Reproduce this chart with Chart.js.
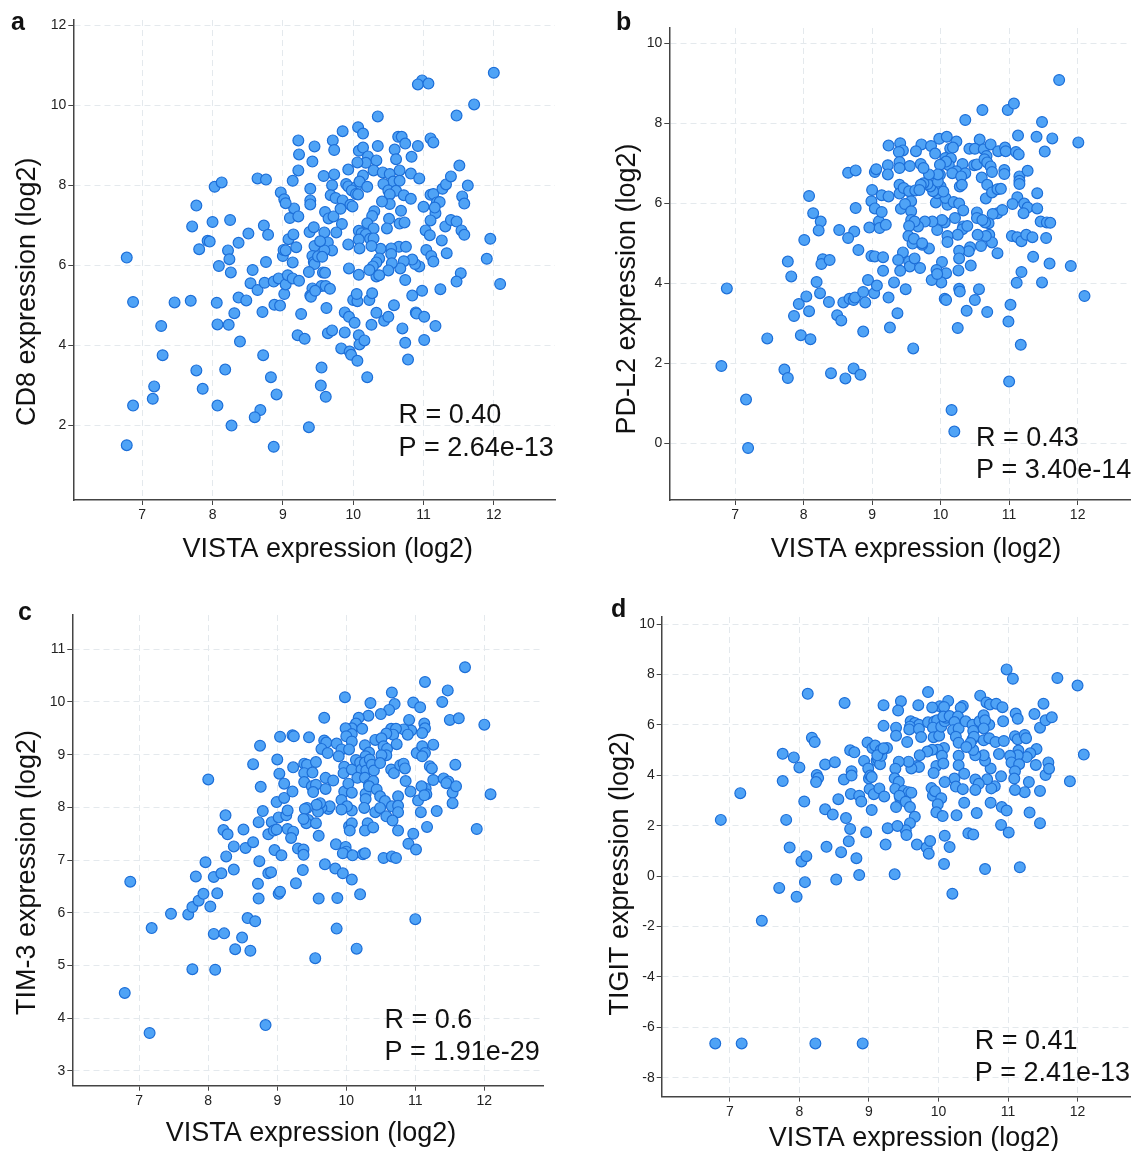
<!DOCTYPE html>
<html><head><meta charset="utf-8">
<script src="https://cdn.jsdelivr.net/npm/chart.js@4.4.1/dist/chart.umd.min.js"></script>
<style>
html,body{margin:0;padding:0;background:#fff;}
#wrap{position:relative;width:1137px;height:1151px;overflow:hidden;background:#fff;}
canvas{position:absolute;}
</style></head><body>
<div id="wrap">
<canvas id="cA" width="568" height="575" style="left:0px;top:0px"></canvas>
<canvas id="cB" width="569" height="575" style="left:568px;top:0px"></canvas>
<canvas id="cC" width="568" height="576" style="left:0px;top:575px"></canvas>
<canvas id="cD" width="569" height="576" style="left:568px;top:575px"></canvas>
</div>
<script>
// ---------- tick labels ----------
const xTicks = [7, 8, 9, 10, 11, 12];
const yTicksA = [2, 4, 6, 8, 10, 12];
const yTicksB = [0, 2, 4, 6, 8, 10];
const yTicksC = [3, 4, 5, 6, 7, 8, 9, 10, 11];
const yTicksD = [-8, -6, -4, -2, 0, 2, 4, 6, 8, 10];

// ---------- texts ----------
const xTitle = 'VISTA expression (log2)';
const yTitleA = 'CD8 expression (log2)';
const yTitleB = 'PD-L2 expression (log2)';
const yTitleC = 'TIM-3 expression (log2)';
const yTitleD = 'TIGIT expression (log2)';
const statsA = ['R = 0.40', 'P = 2.64e-13'];
const statsB = ['R = 0.43', 'P = 3.40e-14'];
const statsC = ['R = 0.6', 'P = 1.91e-29'];
const statsD = ['R = 0.41', 'P = 2.41e-13'];

// ---------- data: [VISTA, gene] ----------
const pointsA = [
[6.78,6.2],[6.87,5.09],[7.27,4.49],[7.29,3.76],[7.17,2.98],[7.15,2.67],[6.87,2.5],[6.78,1.51],[7.46,5.08],[7.69,5.12],
[7.77,7.5],[7.71,6.98],[7.81,6.41],[7.93,6.62],[7.96,6.6],[8.0,7.09],[8.03,7.97],[8.13,8.08],[8.09,5.99],[8.06,5.07],
[8.07,4.53],[7.77,3.38],[7.86,2.92],[8.07,2.5],[8.18,3.4],[8.27,2.0],[8.23,4.52],[8.31,4.81],[8.37,5.2],[8.39,4.1],
[8.25,7.14],[8.22,6.38],[8.24,6.16],[8.26,5.83],[8.37,6.57],[8.51,6.8],[8.48,5.13],[8.57,5.89],[8.54,5.56],[8.64,5.39],
[8.64,8.18],[8.76,8.15],[8.73,7.0],[8.79,6.77],[8.76,6.09],[8.74,5.57],[8.71,4.84],[8.72,3.76],[8.83,3.21],[8.68,2.39],
[8.6,2.21],[8.91,2.78],[8.87,1.47],[8.87,5.6],[8.94,5.68],[8.88,5.02],[8.96,5.0],[9.02,5.29],[9.04,5.53],[9.07,5.76],
[9.14,5.68],[9.23,5.62],[9.0,6.24],[9.01,6.39],[9.04,6.38],[9.14,6.08],[9.19,6.46],[9.08,6.66],[9.15,6.78],[9.1,7.19],
[9.16,7.43],[9.22,7.23],[8.97,7.83],[9.02,7.66],[9.04,7.56],[9.14,8.12],[9.22,8.38],[9.23,8.78],[9.22,9.13],[9.45,8.98],
[9.42,8.6],[9.39,7.92],[9.39,7.63],[9.39,7.53],[9.38,6.84],[9.44,6.96],[9.45,6.49],[9.42,6.24],[9.44,6.09],[9.45,6.04],
[9.37,5.84],[9.42,5.43],[9.39,5.25],[9.4,5.22],[9.26,4.79],[9.21,4.26],[9.31,4.17],[9.37,1.96],
[10.98,10.63],[10.92,10.53],[11.07,10.55],[12.0,10.82],[11.72,10.03],[11.47,9.75],[10.35,9.73],[9.85,9.36],[10.07,9.46],[10.14,9.3],
[10.64,9.22],[10.69,9.22],[10.74,9.05],[11.1,9.18],[11.14,9.08],[10.92,8.99],[10.35,8.99],[9.71,9.13],[9.73,8.89],[10.08,8.87],
[10.14,8.95],[10.21,8.73],[10.33,8.63],[10.18,8.57],[10.06,8.58],[10.59,8.9],[10.61,8.66],[10.83,8.72],[9.58,8.24],[9.73,8.28],
[9.93,8.4],[10.14,8.25],[10.29,8.38],[10.42,8.33],[10.52,8.29],[10.66,8.38],[10.82,8.3],[10.94,8.18],[10.57,8.1],[10.66,8.12],
[10.43,8.04],[10.5,7.88],[10.61,7.87],[10.72,7.76],[10.82,7.67],[10.52,7.78],[10.52,7.54],[10.41,7.6],[9.9,8.04],[9.93,7.98],
[10.04,7.96],[9.98,7.88],[10.09,8.1],[10.2,7.97],[9.7,8.01],[9.68,7.76],[9.75,7.69],[9.85,7.63],[9.96,7.52],[9.99,7.48],
[10.04,7.79],[10.07,7.78],[9.6,7.34],[9.65,7.18],[9.72,7.23],[9.82,7.42],[11.0,7.47],[11.1,7.77],[11.14,7.79],[11.19,7.58],
[11.23,7.59],[11.17,7.31],[11.16,7.45],[11.27,7.92],[11.32,8.03],[11.39,8.23],[11.51,8.5],[11.63,8.0],[11.55,7.73],[11.58,7.55],
[10.3,7.36],[10.27,7.24],[10.2,7.06],[10.29,6.93],[10.51,7.17],[10.48,6.93],[10.66,7.05],[10.73,7.08],[10.68,7.37],[11.1,7.13],
[11.03,6.88],[11.09,6.76],[11.31,6.98],[11.39,7.14],[11.47,7.1],[11.54,6.88],[11.58,6.77],[11.26,6.63],[11.33,6.31],[11.95,6.67],
[11.9,6.17],[12.09,5.54],[11.53,5.81],[11.47,5.6],[11.24,5.41],[10.98,5.37],[10.84,5.25],[10.74,5.64],[11.04,6.39],[11.11,6.24],
[11.14,6.1],[10.94,5.98],[10.88,6.04],[10.84,6.15],[10.65,6.47],[10.75,6.47],[10.72,6.11],[10.67,5.93],[10.54,6.43],[10.54,6.29],
[10.55,6.06],[10.5,5.88],[10.39,6.42],[10.37,6.18],[10.33,6.08],[10.28,5.98],[10.33,5.73],[10.23,5.89],[10.37,5.76],[10.08,6.87],
[10.12,6.81],[10.18,6.78],[10.08,6.65],[10.09,6.43],[10.24,6.67],[10.29,6.68],[10.26,6.49],[9.93,6.53],[9.94,5.93],[10.08,5.77],
[9.84,7.04],[9.76,6.83],[9.59,6.83],[9.64,6.58],[9.7,6.38],[9.59,6.38],[9.53,6.61],[9.5,6.23],[9.56,6.22],[9.57,5.83],
[9.6,5.82],[9.55,5.49],[9.61,5.49],[9.67,5.42],[9.46,5.37],[9.62,4.94],[9.64,4.31],[9.7,4.38],[9.88,4.33],[9.88,4.83],
[9.94,4.72],[10.02,4.57],[10.0,5.14],[10.06,5.11],[10.05,5.29],[10.23,5.14],[10.27,5.31],[10.33,4.82],[10.26,4.52],[10.44,4.62],
[10.5,4.72],[10.58,5.01],[10.7,4.43],[10.74,4.07],[10.78,3.65],[10.89,4.83],[10.9,4.8],[11.01,4.72],[11.17,4.49],[11.01,4.14],
[9.83,3.93],[9.95,3.85],[9.97,3.77],[10.08,4.26],[10.09,4.03],[10.16,4.13],[10.06,3.62],[10.2,3.21],[9.55,3.45],[9.54,3.0],
[9.61,2.72]
];

const pointsB = [
[6.8,1.93],[6.88,3.87],[7.16,1.09],[7.19,-0.12],[7.47,2.62],[7.77,4.54],[7.82,4.17],[7.72,1.84],[7.77,1.63],[7.86,3.18],
[7.93,3.48],[7.96,2.7],[8.01,5.08],[8.04,3.67],[8.08,3.3],[8.1,2.6],[8.08,6.18],[8.14,5.75],[8.25,5.54],[8.22,5.32],
[8.28,4.6],[8.26,4.48],[8.38,4.58],[8.19,4.03],[8.24,3.75],[8.37,3.53],[8.4,1.75],[8.49,3.2],[8.55,3.07],[8.58,3.52],
[8.52,5.33],[8.65,6.76],[8.76,6.82],[8.76,5.88],[8.74,5.29],[8.65,5.13],[8.8,4.83],[8.67,3.61],[8.73,3.58],[8.75,3.64],
[8.61,1.62],[8.73,1.87],[8.83,1.71],[8.87,2.79],[8.87,3.78],[8.9,3.52],[8.94,4.08],[9.03,3.75],[9.07,3.94],[8.99,4.68],
[9.04,4.67],[9.16,4.65],[9.16,4.31],[8.96,5.39],[8.99,6.05],[9.0,6.33],[9.04,5.87],[9.14,6.2],[9.1,5.55],[9.11,5.38],
[9.04,6.78],[9.06,6.85],[9.14,5.78],
[11.73,9.08],[10.61,8.33],[10.98,8.33],[11.07,8.49],[10.36,8.08],[11.48,8.03],[11.13,7.69],[11.4,7.66],[11.63,7.62],[12.01,7.52],
[11.52,7.29],[9.98,7.61],[10.09,7.66],[10.57,7.59],[10.23,7.54],[10.14,7.37],[10.18,7.39],[9.24,7.44],[9.41,7.5],[9.45,7.32],
[9.39,7.28],[9.72,7.47],[9.64,7.3],[9.86,7.43],[9.92,7.24],[10.42,7.36],[10.5,7.36],[10.63,7.35],[10.73,7.47],[10.67,7.18],
[10.84,7.3],[10.94,7.39],[10.95,7.3],[11.1,7.28],[11.14,7.22],[10.07,7.13],[10.04,6.99],[10.15,7.12],[10.12,6.95],[10.08,7.04],
[9.99,6.96],[9.99,6.71],[10.32,6.98],[10.23,6.8],[10.17,6.75],[10.36,6.75],[10.3,6.67],[10.28,6.42],[10.31,6.46],[10.49,6.95],
[10.53,6.97],[10.6,6.64],[10.68,6.46],[10.66,6.12],[10.75,6.27],[10.64,7.1],[10.68,7.02],[10.73,6.92],[10.75,6.78],[10.93,6.83],
[10.93,6.73],[11.15,6.67],[11.15,6.56],[11.15,6.48],[11.27,6.81],[10.83,6.35],[10.88,6.36],[11.41,6.25],[11.12,6.15],[11.05,5.98],
[11.22,5.99],[11.27,5.89],[11.21,5.75],[11.41,5.87],[11.46,5.54],[11.55,5.52],[11.6,5.51],[11.04,5.18],[11.12,5.15],[11.18,5.05],
[11.25,5.21],[11.34,5.15],[11.54,5.13],[11.35,4.66],[11.59,4.49],[11.9,4.43],[11.48,4.02],[11.11,4.01],[11.18,4.28],[12.1,3.68],
[11.02,3.46],[10.99,3.04],[11.17,2.46],[11.0,1.54],[10.16,0.83],[10.2,0.29],[10.83,5.75],[10.9,5.83],[10.76,5.73],[10.7,5.5],
[10.65,5.52],[10.71,5.21],[10.75,5.02],[10.83,4.75],[10.66,5.18],[10.59,4.93],[10.53,5.77],[10.53,5.63],[10.61,5.58],[10.54,5.21],
[10.43,4.9],[10.41,4.8],[10.44,4.44],[10.27,4.81],[10.27,4.62],[10.26,4.32],[10.27,3.86],[10.28,3.79],[10.56,3.85],[10.5,3.58],
[10.38,3.31],[10.68,3.28],[10.25,2.88],[10.06,3.61],[10.08,3.58],[10.08,4.25],[10.02,4.53],[10.01,4.02],[9.94,4.33],[9.87,4.08],
[9.95,4.23],[10.33,5.42],[10.32,5.35],[10.39,5.43],[10.25,5.21],[10.21,5.63],[10.1,5.18],[10.1,5.03],[10.06,5.52],[10.02,5.58],
[9.95,5.33],[9.88,5.54],[9.77,5.54],[9.83,4.87],[9.67,5.42],[9.73,4.96],[10.1,5.96],[10.07,6.13],[10.19,6.03],[10.27,5.99],
[10.33,5.82],[9.93,6.02],[9.95,6.25],[10.0,6.42],[10.04,6.29],[9.89,6.3],[9.85,6.42],[9.81,6.48],[9.75,6.5],[9.71,6.46],
[9.96,6.54],[9.96,6.72],[9.83,6.72],[9.71,6.98],[9.75,6.88],[9.55,6.93],[9.4,7.03],[9.4,6.88],[9.23,6.95],[9.23,6.72],
[9.4,6.46],[9.4,6.24],[9.46,6.38],[9.54,6.3],[9.63,6.32],[9.69,6.33],[9.57,6.05],[9.24,6.17],[9.42,5.86],[9.48,5.98],
[9.57,5.8],[9.57,5.58],[9.62,5.54],[9.54,5.43],[9.2,5.46],[9.53,5.18],[9.59,4.99],[9.61,5.11],[9.73,5.0],[9.45,4.77],
[9.38,4.58],[9.54,4.54],[9.55,4.42],[9.62,4.62],[9.7,4.38],[9.41,4.31],[9.32,4.02],[9.49,3.85],[9.24,3.64],[9.37,3.25],
[9.26,2.89],[9.6,2.37]
];

const pointsC = [
[6.87,6.59],[6.79,4.48],[7.18,5.71],[7.15,3.72],[7.46,5.98],[7.71,5.97],[7.77,6.11],[7.77,4.93],[7.82,6.69],[7.86,6.23],
[7.93,6.36],[7.96,6.96],[8.0,8.53],[8.03,6.12],[8.08,6.68],[8.08,5.6],[8.1,4.92],[8.13,6.37],[8.19,6.75],[8.23,5.61],
[8.22,7.57],[8.25,7.85],[8.28,7.49],[8.26,7.07],[8.37,7.26],[8.37,6.82],[8.39,5.31],[8.49,5.53],[8.51,7.58],[8.54,7.23],
[8.57,5.9],[8.61,5.28],[8.65,7.34],[8.65,8.82],[8.68,5.84],[8.72,6.55],[8.73,6.27],[8.74,6.98],[8.73,7.72],[8.75,9.17],
[8.76,8.39],[8.79,7.93],[8.83,3.87],[8.87,7.49],[8.87,6.75],[8.91,6.77],[8.92,7.72],[8.95,7.56],[8.99,7.58],[8.96,7.19],
[8.99,8.1],[9.0,8.91],[9.02,7.81],[9.03,8.64],[9.02,6.36],[9.04,6.4],[9.04,9.34],[9.06,7.09],[9.1,8.45],[9.1,8.18],
[9.13,7.85],[9.15,7.94],[9.15,7.59],[9.23,7.54],[9.2,7.42],[9.22,9.37],[9.24,9.35],[9.23,8.76],[9.22,8.3],[9.27,6.56],
[9.3,7.22],
[11.72,10.66],[11.14,10.38],[11.47,10.22],[11.39,10.0],[12.0,9.57],[11.5,9.66],[11.63,9.69],[9.98,10.09],[10.66,10.18],[10.35,9.98],
[10.7,9.96],[10.62,9.85],[10.5,9.77],[10.97,9.99],[11.07,9.9],[10.91,9.66],[11.13,9.59],[11.14,9.5],[11.1,9.41],[10.88,9.43],
[10.94,9.46],[10.83,9.48],[10.65,9.49],[10.72,9.49],[10.68,9.38],[10.58,9.4],[10.89,9.38],[10.32,9.74],[10.18,9.7],[10.14,9.59],
[10.08,9.5],[9.99,9.5],[10.08,9.39],[10.0,9.35],[10.08,9.25],[10.23,9.49],[9.68,9.7],[9.46,9.33],[9.68,9.27],[9.71,9.23],
[9.64,9.11],[9.73,9.03],[9.86,9.21],[9.93,9.1],[9.89,8.97],[10.04,9.1],[10.27,9.18],[10.33,9.04],[10.28,8.97],[10.42,9.28],
[10.51,9.31],[10.54,9.16],[10.59,9.11],[10.58,8.99],[10.51,8.99],[10.73,9.2],[11.02,9.03],[11.1,9.16],[11.14,9.03],[11.1,8.97],
[11.26,9.19],[9.39,8.83],[9.43,8.81],[9.39,8.65],[9.39,8.48],[9.51,8.66],[9.56,8.86],[9.97,8.77],[9.96,8.65],[10.08,8.72],
[10.14,8.9],[10.2,8.85],[10.22,8.72],[10.16,8.56],[10.27,8.85],[10.29,8.7],[10.34,8.91],[10.37,8.81],[10.4,8.7],[10.27,8.56],
[10.33,8.43],[10.39,8.5],[10.49,8.84],[10.65,8.72],[10.69,8.65],[10.78,8.8],[10.83,8.83],[10.85,8.74],[10.86,8.5],[11.21,8.78],
[11.24,8.74],[11.58,8.81],[11.26,8.52],[11.41,8.55],[11.48,8.49],[11.45,8.46],[9.5,8.4],[9.56,8.43],[9.52,8.29],[9.7,8.56],
[9.7,8.35],[9.81,8.51],[9.97,8.3],[10.03,8.45],[10.08,8.28],[9.93,8.14],[10.28,8.26],[10.28,8.16],[10.33,8.4],[10.44,8.34],
[10.49,8.21],[10.56,8.12],[10.66,8.02],[10.75,8.21],[10.75,8.03],[10.75,7.91],[10.93,8.3],[11.04,8.13],[11.15,8.36],[11.16,8.25],
[11.09,8.4],[11.13,8.23],[11.54,8.28],[11.59,8.4],[11.54,8.08],[11.31,7.93],[11.08,7.91],[11.17,7.63],[12.09,8.25],[11.89,7.59],
[10.97,7.5],[10.9,7.31],[11.01,7.2],[10.75,7.56],[10.42,7.91],[10.49,7.99],[10.58,7.83],[10.67,7.75],[10.26,7.99],[10.31,7.7],
[10.27,7.56],[10.39,7.62],[10.08,7.94],[10.01,8.02],[9.93,7.96],[9.74,7.97],[9.76,8.02],[9.64,7.99],[9.59,7.92],[9.62,8.08],
[9.57,8.05],[9.43,7.99],[9.4,7.97],[9.45,7.76],[9.42,7.7],[9.38,7.78],[9.56,7.7],[9.6,7.46],[10.04,7.64],[10.08,7.7],
[10.05,7.56],[9.85,7.3],[9.99,7.25],[10.0,7.16],[9.95,7.13],[10.09,7.09],[10.24,7.11],[10.27,7.13],[10.54,7.04],[10.66,7.07],
[10.72,7.04],[9.38,7.2],[9.38,7.1],[9.69,6.92],[9.84,6.84],[9.95,6.75],[10.08,6.63],[9.37,6.81],[9.6,6.27],[9.87,6.28],
[10.2,6.35],[11.0,5.88],[9.86,5.7],[10.15,5.32],[9.55,5.14]
];

const pointsD = [
[6.79,-6.64],[7.17,-6.64],[8.23,-6.64],[8.91,-6.64],[6.87,2.23],[7.15,3.29],[7.46,-1.77],[7.71,-0.47],[7.96,-0.82],[8.08,-0.24],
[8.03,0.58],[8.1,0.79],[7.86,1.13],[7.81,2.23],[7.76,3.77],[7.76,4.85],[7.92,4.71],[8.0,4.31],[8.07,2.96],[8.12,7.23],
[8.18,5.49],[8.22,5.32],[8.25,4.01],[8.27,3.89],[8.24,3.73],[8.37,4.43],[8.51,4.52],[8.37,2.65],[8.48,2.44],[8.39,1.16],
[8.53,-0.14],[8.56,3.05],[8.64,3.83],[8.65,6.87],[8.67,2.3],[8.73,1.87],[8.71,1.38],[8.6,0.95],[8.82,0.71],[8.86,0.04],
[8.73,4.99],[8.79,4.91],[8.75,4.16],[8.75,3.99],[8.74,3.26],[8.86,3.19],[8.89,2.96],[8.93,4.57],[8.96,1.74],[8.98,5.3],
[8.99,4.27],[9.0,3.87],[9.02,3.99],[9.04,3.93],[9.01,3.45],[9.04,2.62],[9.05,5.08],[9.07,3.25],[9.09,5.18],[9.11,4.58],
[9.13,4.65],[9.15,3.48],[9.16,4.44],[9.18,4.77],[9.21,6.78],[9.21,5.96],[9.22,3.16],[9.24,1.25],[9.26,5.08],[9.27,1.9],
[9.17,5.0],[9.12,4.79],
[10.98,8.2],[11.07,7.83],[11.71,7.86],[12.0,7.56],[9.85,7.3],[10.6,7.16],[10.69,6.89],[10.74,6.81],[10.83,6.84],[10.92,6.7],
[11.51,6.84],[10.14,6.95],[10.02,6.74],[10.08,6.71],[9.91,6.69],[10.35,6.75],[10.32,6.68],[9.71,6.78],[9.46,6.94],[9.42,6.57],
[9.39,5.89],[9.39,5.57],[9.55,5.32],[9.6,6.14],[9.66,6.07],[9.72,6.0],[9.59,5.93],[9.58,5.82],[9.72,5.84],[9.75,5.52],
[9.85,6.1],[9.94,6.13],[9.98,6.18],[9.92,5.89],[9.93,5.51],[10.01,5.57],[10.04,5.93],[10.09,6.14],[10.11,6.28],[10.07,6.33],
[10.16,6.35],[10.28,6.33],[10.23,6.11],[10.21,5.79],[10.29,5.86],[10.25,5.53],[10.29,5.29],[10.39,6.14],[10.49,6.0],[10.5,5.76],
[10.49,5.43],[10.51,5.53],[10.59,6.14],[10.65,6.38],[10.73,6.0],[10.67,6.18],[10.65,5.86],[10.65,5.39],[10.73,5.47],[10.82,5.32],
[10.93,6.14],[10.94,5.36],[11.11,6.45],[11.14,6.24],[11.1,5.55],[11.14,5.43],[11.24,5.6],[11.26,5.47],[11.38,6.43],[11.46,5.89],
[11.54,6.18],[11.63,6.3],[12.09,4.82],[11.41,5.04],[11.32,4.87],[11.27,4.72],[11.15,4.98],[11.14,4.79],[11.03,4.77],[11.05,4.51],
[11.16,4.44],[11.1,4.16],[11.09,3.87],[10.87,4.84],[10.9,3.96],[10.81,3.56],[10.76,3.48],[10.7,3.84],[10.75,4.27],[10.67,4.58],
[10.65,4.79],[10.53,4.79],[10.5,5.0],[10.46,5.28],[10.4,5.12],[10.29,4.77],[10.29,4.4],[10.37,4.06],[10.23,3.87],[10.25,3.55],
[10.35,3.45],[10.53,3.83],[10.58,3.66],[10.53,3.42],[10.08,5.08],[9.99,5.01],[10.05,4.77],[9.91,5.01],[9.84,4.94],[9.73,4.79],
[9.69,4.37],[9.72,4.33],[9.61,4.27],[9.57,4.54],[9.43,4.54],[9.38,4.26],[9.37,3.88],[9.43,3.74],[9.38,3.46],[9.5,3.38],
[9.57,3.33],[9.61,3.31],[9.97,4.37],[10.07,4.47],[9.93,4.09],[9.9,3.49],[9.92,3.19],[9.95,3.37],[10.04,3.09],[9.99,2.85],
[9.97,2.53],[10.06,2.38],[10.09,3.73],[9.45,3.09],[9.44,3.19],[9.39,2.74],[9.53,2.95],[9.59,2.74],[9.66,2.35],[9.59,2.1],
[9.53,1.82],[9.54,1.63],[9.41,1.99],[9.69,1.25],[9.83,1.13],[9.88,1.39],[9.86,0.89],[10.09,1.6],[10.16,1.15],[10.08,0.48],
[10.2,-0.7],[9.37,0.07],[10.26,2.41],[10.37,2.91],[10.55,2.5],[10.43,1.7],[10.5,1.65],[10.75,2.91],[10.91,2.74],[10.98,2.6],
[10.9,2.03],[11.01,1.73],[11.31,2.52],[11.46,2.1],[11.3,3.73],[11.46,3.38],[11.24,3.33],[11.1,3.42],[11.4,4.41],[11.54,4.01],
[11.58,4.51],[11.59,4.26],[11.89,3.76],[10.67,0.28],[11.17,0.35],[9.21,5.07]
];

// ---------- drawing ----------
const FONT = '"Liberation Sans", Arial, Helvetica, sans-serif';

const panelText = {
  id: 'panelText',
  afterDraw(chart, args, o) {
    const ctx = chart.ctx;
    ctx.save();
    ctx.fillStyle = '#111';
    ctx.textBaseline = 'alphabetic';
    ctx.textAlign = 'left';
    ctx.font = 'bold 25px ' + FONT;
    ctx.fillText(o.letter, o.letterPos[0], o.letterPos[1]);
    ctx.font = '27px ' + FONT;
    ctx.textAlign = 'center';
    ctx.fillText(o.xTitle, o.xTitlePos[0], o.xTitlePos[1]);
    ctx.save();
    ctx.translate(o.yTitlePos[0], o.yTitlePos[1]);
    ctx.rotate(-Math.PI / 2);
    ctx.fillText(o.yTitle, 0, 0);
    ctx.restore();
    ctx.textAlign = 'left';
    o.stats.forEach((s, i) => ctx.fillText(s, o.statPos[0], o.statPos[1] + i * o.statGap));
    ctx.restore();
  }
};

function makeChart(id, pts, xRange, yRange, yTicks, area, txt) {
  const canvas = document.getElementById(id);
  const W = canvas.width, H = canvas.height;
  const [L, T, R, B] = area;
  const xH = 30;
  const gridCfg = { color: '#e4e9ed', lineWidth: 1, drawTicks: true, tickLength: 5, tickColor: '#444', tickWidth: 1 };
  const borderCfg = { display: true, color: '#444', width: 1.5, dash: [6, 4] };
  const tickCfg = { color: '#222', font: { family: FONT, size: 14 }, padding: 2, autoSkip: false, maxRotation: 0, callback: v => String(v) };
  new Chart(canvas, {
    type: 'scatter',
    data: { datasets: [{
      data: pts.map(p => ({ x: p[0], y: p[1] })),
      backgroundColor: '#4fa3f6', borderColor: '#1d6fd8', borderWidth: 1.2,
      pointRadius: 5.4, pointHoverRadius: 5.4
    }] },
    options: {
      responsive: false, animation: false, devicePixelRatio: 1,
      layout: { padding: { left: 0, top: T, right: W - R, bottom: H - B - xH } },
      plugins: { legend: { display: false }, tooltip: { enabled: false }, panelText: txt },
      scales: {
        x: {
          type: 'linear', position: 'bottom', min: xRange[0], max: xRange[1],
          afterBuildTicks: s => { s.ticks = xTicks.map(v => ({ value: v })); },
          afterFit: s => { s.height = xH; },
          ticks: tickCfg, grid: gridCfg, border: borderCfg
        },
        y: {
          type: 'linear', position: 'left', min: yRange[0], max: yRange[1],
          afterBuildTicks: s => { s.ticks = yTicks.map(v => ({ value: v })); },
          afterFit: s => { s.width = L; },
          ticks: tickCfg, grid: gridCfg, border: borderCfg
        }
      }
    },
    plugins: [panelText]
  });
}

makeChart('cA', pointsA, [6.02, 12.87], [0.14, 12.14], yTicksA, [73.3, 20, 555, 500],
  { letter: 'a', letterPos: [11, 30], xTitle: xTitle, xTitlePos: [327.8, 556.7], yTitle: yTitleA, yTitlePos: [35, 291.7], stats: statsA, statPos: [398.5, 423], statGap: 32.5 });
makeChart('cB', pointsB, [6.04, 12.77], [-1.42, 10.38], yTicksB, [101.3, 28, 569, 500],
  { letter: 'b', letterPos: [48, 30], xTitle: xTitle, xTitlePos: [348, 556.7], yTitle: yTitleB, yTitlePos: [67, 289], stats: statsB, statPos: [408, 446], statGap: 32 });
makeChart('cC', pointsC, [6.03, 12.85], [2.72, 11.65], yTicksC, [72.3, 40, 543, 510.7],
  { letter: 'c', letterPos: [18, 45], xTitle: xTitle, xTitlePos: [311, 565.7], yTitle: yTitleC, yTitlePos: [34.5, 297.5], stats: statsC, statPos: [384.5, 452.5], statGap: 32 });
makeChart('cD', pointsD, [6.02, 12.76], [-8.75, 10.28], yTicksD, [93.7, 42, 569, 521.6],
  { letter: 'd', letterPos: [43, 42], xTitle: xTitle, xTitlePos: [346, 571], yTitle: yTitleD, yTitlePos: [60, 298.7], stats: statsD, statPos: [406.7, 474], statGap: 32 });
</script>
</body></html>
